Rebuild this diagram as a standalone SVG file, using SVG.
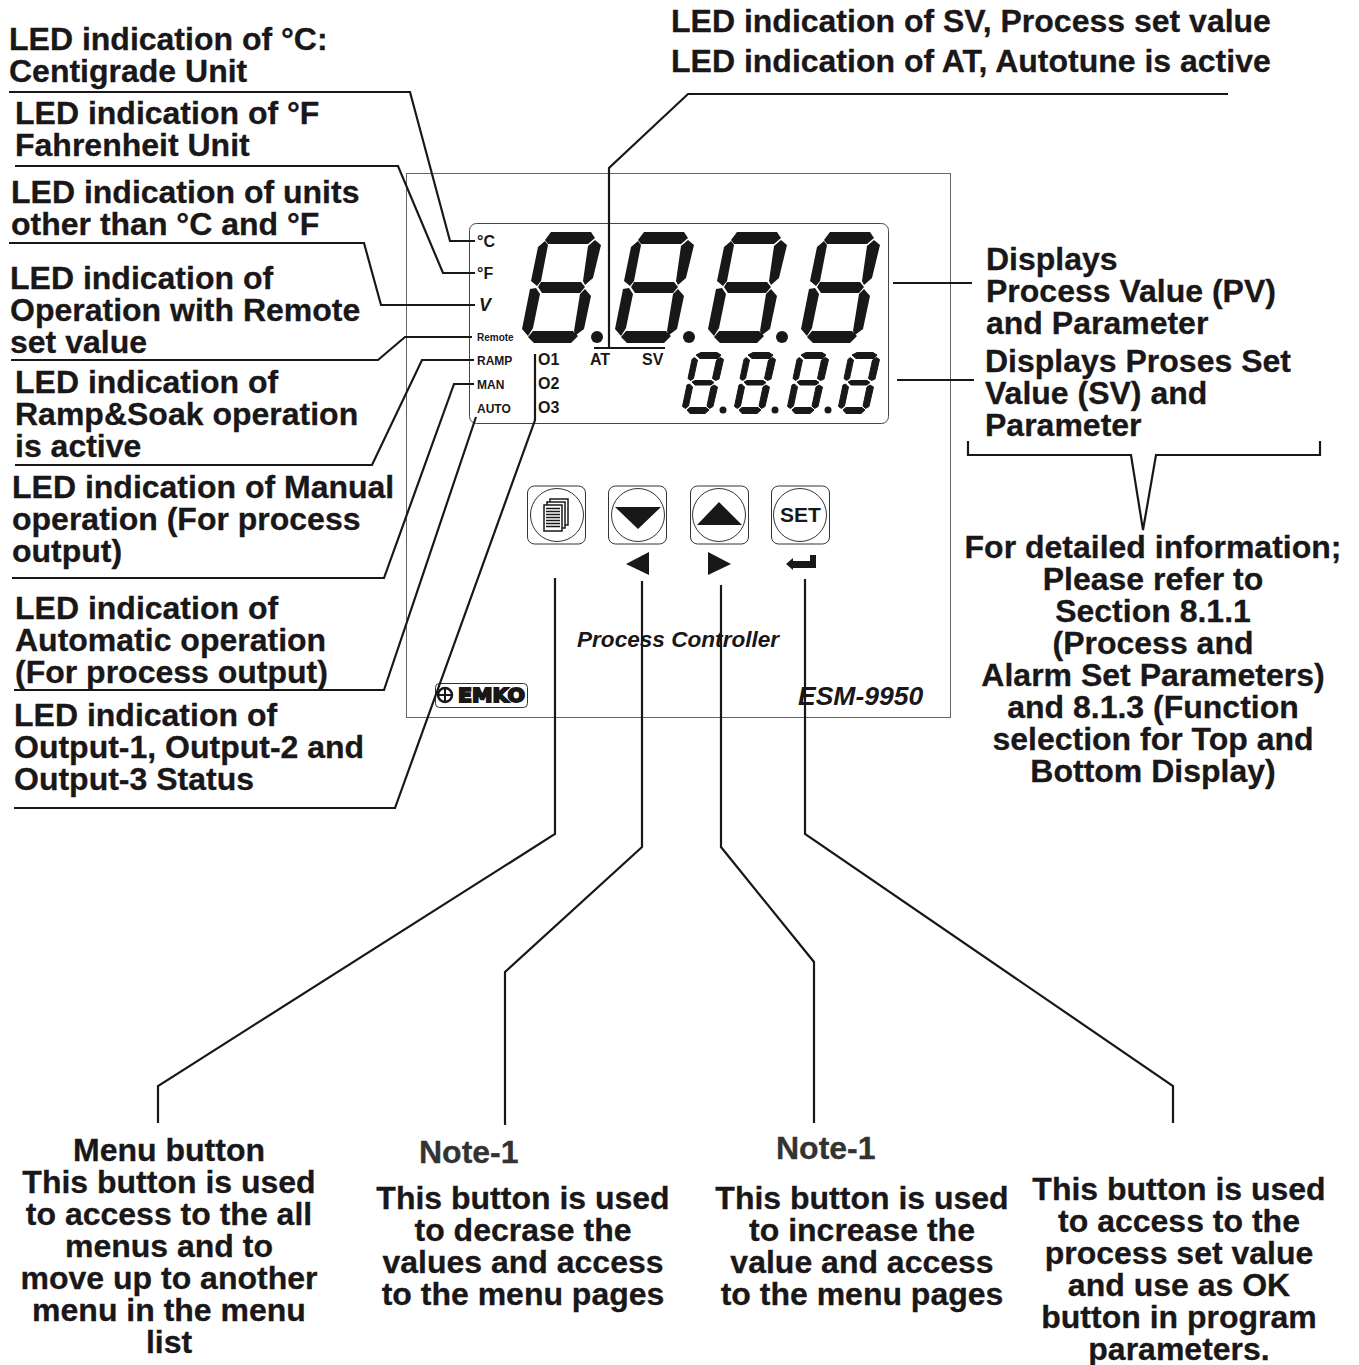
<svg xmlns="http://www.w3.org/2000/svg" width="1359" height="1365" viewBox="0 0 1359 1365">
<style>
text{font-family:"Liberation Sans",Arial,sans-serif;font-weight:700;fill:#1a1718}
.l{font-size:32px;stroke:#1a1718;stroke-width:.3}
.m{text-anchor:middle}
.o{font-size:16px}
.t{font-size:12px}
.i{font-style:italic}
.c{fill:none;stroke:#1a1718;stroke-width:2.2;stroke-linejoin:miter}
.f{fill:#1a1718}
.b{fill:#fff;stroke:#333;stroke-width:1}
</style>
<defs>
<path id="big" class="f" d="M23,8L29,0H69L73,6L66,12H26ZM73,8L79,13L71,46L63,53L61,49L66,14ZM23,9L26,13L19,49L15,54L9,49L16,15ZM16,55L19,50H59L63,55L58,61H20ZM8,57L14,56L18,62L11,96L6,104L0,97ZM63,57L69,64L62,97L54,103L52,99L58,62ZM6,105L11,99H51L56,104L49,111H12Z"/>
<path id="small" class="f" stroke="#1a1718" stroke-width="1" stroke-linejoin="round" d="M14,3L19,.5H35L39,3L36,6.500H18ZM38.500,5.500L41.500,7.500L37,27L33.500,28.500L30.500,26.500L34.500,8ZM12,5.500L15.500,8L11.500,26.500L8.500,28.500L6,26.500L10,7.500ZM10,30L13,28.500H29L32,30.500L29,33H13ZM5,33L7.500,32L10.500,35L6.500,54L3.500,56.500L.5,54.500ZM32,33L35.500,35L31,54.500L27.500,56.500L25,54L29,35ZM5,58L8,55.500H24L27,58L23,61.500H8Z"/>
</defs>

<g id="panel">
<rect x="406.500" y="173.500" width="544" height="544" fill="#fff" stroke="#666" stroke-width="1"/>
<rect x="469.500" y="223.500" width="419" height="200" rx="7" fill="#fff" stroke="#444" stroke-width="1"/>
</g>

<g id="displays">
<use href="#big" x="522" y="232"/><use href="#big" x="615" y="232"/><use href="#big" x="708" y="232"/><use href="#big" x="801" y="232"/>
<circle class="f" cx="597" cy="337" r="6"/><circle class="f" cx="689" cy="337" r="6"/><circle class="f" cx="782" cy="337" r="6"/>
<use href="#small" x="682" y="352"/><use href="#small" x="734" y="352"/><use href="#small" x="787" y="352"/><use href="#small" x="838" y="352"/>
<circle class="f" cx="723" cy="410" r="3.500"/><circle class="f" cx="775" cy="410" r="3.500"/><circle class="f" cx="828" cy="410" r="3.500"/>
</g>

<g id="panel-labels">
<text x="477" y="247" style="font-size:16px">°C</text>
<text x="477" y="279" style="font-size:16px">°F</text>
<text x="479" y="311" class="i" style="font-size:18px">V</text>
<text x="477" y="341" style="font-size:10px">Remote</text>
<text x="477" y="365" class="t">RAMP</text>
<text x="477" y="389" class="t">MAN</text>
<text x="477" y="413" class="t">AUTO</text>
<text x="538" y="365" class="o">O1</text>
<text x="538" y="389" class="o">O2</text>
<text x="538" y="413" class="o">O3</text>
<text x="590" y="365" class="o">AT</text>
<text x="642" y="365" class="o">SV</text>
<text x="577" y="647" class="i" style="font-size:22.600px">Process Controller</text>
<text x="798" y="705" class="i" style="font-size:26.500px">ESM-9950</text>
</g>

<g id="btn-menu">
<rect class="b" x="527.500" y="486" width="58" height="58" rx="7"/><circle class="b" cx="557" cy="515" r="26.500"/>
<rect x="550" y="499" width="18" height="26" fill="#fff" stroke="#1a1718" stroke-width="1.500"/>
<rect x="547" y="502" width="18" height="26" fill="#fff" stroke="#1a1718" stroke-width="1.500"/>
<rect x="544" y="505" width="18" height="26" fill="#fff" stroke="#1a1718" stroke-width="1.500"/>
<path d="M546,508.500H560M546,511.500H560M546,514.500H560M546,517.500H560M546,520.500H560M546,523.500H560M546,526.500H560" stroke="#1a1718" stroke-width="1.500"/>
</g>
<g id="btn-down">
<rect class="b" x="608.500" y="486" width="58" height="58" rx="7"/><circle class="b" cx="638" cy="515" r="26.500"/>
<path class="f" d="M615,507H661L638,529Z"/><path class="f" d="M626,564L649,552V575Z"/>
</g>
<g id="btn-up">
<rect class="b" x="690.500" y="486" width="58" height="58" rx="7"/><circle class="b" cx="719" cy="515" r="26.500"/>
<path class="f" d="M697,525H742L719,502Z"/><path class="f" d="M708,552V575L731,564Z"/>
</g>
<g id="btn-set">
<rect class="b" x="771.500" y="486" width="58" height="58" rx="7"/><circle class="b" cx="800" cy="515" r="26.500"/>
<text x="800.500" y="522" class="m" style="font-size:21px">SET</text>
<path class="f" d="M786,564L793,558V561H810V555H816V568H793V570Z"/>
</g>

<g id="logo">
<rect x="435.500" y="683.500" width="92" height="24" rx="4" fill="#fff" stroke="#333" stroke-width="1"/>
<circle cx="445" cy="695" r="7" fill="#fff" stroke="#1a1718" stroke-width="2.500"/>
<path d="M438,695H452M445,689V702" stroke="#1a1718" stroke-width="2"/>
<text x="458" y="702" textLength="67" lengthAdjust="spacingAndGlyphs" style="font-family:'DejaVu Sans',sans-serif;font-size:19px;stroke:#1a1718;stroke-width:1.800">EMKO</text>
</g>

<g id="connectors">
<path class="c" d="M9,92H410L450,241H475"/>
<path class="c" d="M15,166H398L443,273H475"/>
<path class="c" d="M9,243H364L381,305H475"/>
<path class="c" d="M11,360H378L405,337H472"/>
<path class="c" d="M15,465H372L422,360H474"/>
<path class="c" d="M12,578H384L454,384H474"/>
<path class="c" d="M14,690H384L476,417"/>
<path class="c" d="M14,808H395L535,420V354"/>
<path class="c" d="M1228,94H688L609,168V348"/>
<path class="c" d="M594,348H665"/>
<path class="c" d="M893,283H972"/>
<path class="c" d="M897,380H974"/>
<path class="c" d="M968,441V455H1131L1143,530L1156,455H1320V441"/>
<path class="c" d="M555,578V834L158,1086V1123"/>
<path class="c" d="M642,581V847L505,972V1125"/>
<path class="c" d="M721,585V847L814,962V1123"/>
<path class="c" d="M805,579V834L1173,1086V1123"/>
</g>

<g id="labels-left">
<text class="l" x="9" y="50">LED indication of °C:</text>
<text class="l" x="9" y="82">Centigrade Unit</text>
<text class="l" x="15" y="124">LED indication of °F</text>
<text class="l" x="15" y="156">Fahrenheit Unit</text>
<text class="l" x="11" y="203">LED indication of units</text>
<text class="l" x="11" y="235">other than °C and °F</text>
<text class="l" x="10" y="289">LED indication of</text>
<text class="l" x="10" y="321">Operation with Remote</text>
<text class="l" x="10" y="353">set value</text>
<text class="l" x="15" y="393">LED indication of</text>
<text class="l" x="15" y="425">Ramp&amp;Soak operation</text>
<text class="l" x="15" y="457">is active</text>
<text class="l" x="12" y="498">LED indication of Manual</text>
<text class="l" x="12" y="530">operation (For process</text>
<text class="l" x="12" y="562">output)</text>
<text class="l" x="15" y="619">LED indication of</text>
<text class="l" x="15" y="651">Automatic operation</text>
<text class="l" x="15" y="683">(For process output)</text>
<text class="l" x="14" y="726">LED indication of</text>
<text class="l" x="14" y="758">Output-1, Output-2 and</text>
<text class="l" x="14" y="790">Output-3 Status</text>
</g>

<g id="labels-top-right">
<text class="l" x="671" y="32">LED indication of SV, Process set value</text>
<text class="l" x="671" y="72">LED indication of AT, Autotune is active</text>
<text class="l" x="986" y="270">Displays</text>
<text class="l" x="986" y="302">Process Value (PV)</text>
<text class="l" x="986" y="334">and Parameter</text>
<text class="l" x="985" y="372">Displays Proses Set</text>
<text class="l" x="985" y="404">Value (SV) and</text>
<text class="l" x="985" y="436">Parameter</text>
<text class="l m" x="1153" y="558">For detailed information;</text>
<text class="l m" x="1153" y="590">Please refer to</text>
<text class="l m" x="1153" y="622">Section 8.1.1</text>
<text class="l m" x="1153" y="654">(Process and</text>
<text class="l m" x="1153" y="686">Alarm Set Parameters)</text>
<text class="l m" x="1153" y="718">and 8.1.3 (Function</text>
<text class="l m" x="1153" y="750">selection for Top and</text>
<text class="l m" x="1153" y="782">Bottom Display)</text>
</g>

<g id="labels-bottom">
<text class="l m" x="169" y="1161">Menu button</text>
<text class="l m" x="169" y="1193">This button is used</text>
<text class="l m" x="169" y="1225">to access to the all</text>
<text class="l m" x="169" y="1257">menus and to</text>
<text class="l m" x="169" y="1289">move up to another</text>
<text class="l m" x="169" y="1321">menu in the menu</text>
<text class="l m" x="169" y="1353">list</text>
<text class="l" x="419" y="1163" style="fill:#333;stroke:#333">Note-1</text>
<text class="l m" x="523" y="1209">This button is used</text>
<text class="l m" x="523" y="1241">to decrase the</text>
<text class="l m" x="523" y="1273">values and access</text>
<text class="l m" x="523" y="1305">to the menu pages</text>
<text class="l" x="776" y="1159" style="fill:#333;stroke:#333">Note-1</text>
<text class="l m" x="862" y="1209">This button is used</text>
<text class="l m" x="862" y="1241">to increase the</text>
<text class="l m" x="862" y="1273">value and access</text>
<text class="l m" x="862" y="1305">to the menu pages</text>
<text class="l m" x="1179" y="1200">This button is used</text>
<text class="l m" x="1179" y="1232">to access to the</text>
<text class="l m" x="1179" y="1264">process set value</text>
<text class="l m" x="1179" y="1296">and use as OK</text>
<text class="l m" x="1179" y="1328">button in program</text>
<text class="l m" x="1179" y="1360">parameters.</text>
</g>
</svg>
